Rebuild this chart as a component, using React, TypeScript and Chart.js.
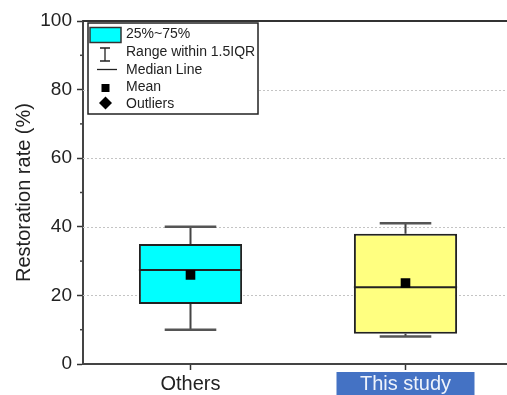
import React, { useEffect, useRef } from "react";
import { Chart, registerables } from "chart.js";

Chart.register(...registerables);

const categories = ["Others", "This study"];
const q1Values = [17.5, 8.8];
const q3Values = [35, 38];
const medianValues = [27.4, 22.4];
const meanValues = [26, 23.6];
const whiskerLow = [10, 8];
const whiskerHigh = [40, 41];
const boxColors = ["#00FFFF", "#FFFF80"];
const yMajorTicks = [0, 20, 40, 60, 80, 100];
const yMinorTicks = [10, 30, 50, 70, 90];
const yGridValues = [20, 40, 60, 80];
const legendLabels = ["25%~75%", "Range within 1.5IQR", "Median Line", "Mean", "Outliers"];

const FONT = "Arial, 'Liberation Sans', sans-serif";

const boxPlugin = {
  id: "boxExtras",
  beforeDraw(chart: any) {
    const { ctx } = chart;
    const x = chart.scales.x;
    const cx = x.getPixelForValue(1);
    ctx.save();
    ctx.fillStyle = "#4472C4";
    ctx.fillRect(cx - 69, 372, 138, 30);
    ctx.restore();
  },
  beforeDatasetsDraw(chart: any) {
    const { ctx, chartArea } = chart;
    const y = chart.scales.y;
    const x = chart.scales.x;
    ctx.save();
    // dotted grid
    ctx.strokeStyle = "#c4c4c4";
    ctx.lineWidth = 1;
    ctx.setLineDash([2, 2]);
    yGridValues.forEach((v) => {
      const py = Math.round(y.getPixelForValue(v)) + 0.5;
      ctx.beginPath();
      ctx.moveTo(chartArea.left, py);
      ctx.lineTo(chartArea.right, py);
      ctx.stroke();
    });
    ctx.setLineDash([]);
    // top border
    ctx.strokeStyle = "#333";
    ctx.lineWidth = 2;
    ctx.beginPath();
    ctx.moveTo(chartArea.left, chartArea.top);
    ctx.lineTo(chartArea.right + 20, chartArea.top);
    ctx.stroke();
    // minor ticks
    ctx.lineWidth = 1.5;
    ctx.strokeStyle = "#444";
    yMinorTicks.forEach((v) => {
      const py = y.getPixelForValue(v);
      ctx.beginPath();
      ctx.moveTo(chartArea.left - 3, py);
      ctx.lineTo(chartArea.left, py);
      ctx.stroke();
    });
    // whiskers
    const meta = chart.getDatasetMeta(0);
    categories.forEach((_, i) => {
      const el = meta.data[i];
      const cx = x.getPixelForValue(i);
      const w = el ? el.width : 100;
      const capHalf = w / 4;
      ctx.strokeStyle = "#444";
      ctx.lineWidth = 2;
      ctx.beginPath();
      ctx.moveTo(cx, y.getPixelForValue(whiskerLow[i]));
      ctx.lineTo(cx, y.getPixelForValue(q1Values[i]));
      ctx.moveTo(cx, y.getPixelForValue(q3Values[i]));
      ctx.lineTo(cx, y.getPixelForValue(whiskerHigh[i]));
      ctx.stroke();
      ctx.lineWidth = 2.5;
      ctx.strokeStyle = "#555";
      ctx.beginPath();
      ctx.moveTo(cx - capHalf, y.getPixelForValue(whiskerLow[i]));
      ctx.lineTo(cx + capHalf, y.getPixelForValue(whiskerLow[i]));
      ctx.moveTo(cx - capHalf, y.getPixelForValue(whiskerHigh[i]));
      ctx.lineTo(cx + capHalf, y.getPixelForValue(whiskerHigh[i]));
      ctx.stroke();
    });
    ctx.restore();
  },
  afterDatasetDraw(chart: any, args: any) {
    if (args.index !== 0) return;
    const { ctx } = chart;
    const y = chart.scales.y;
    const meta = chart.getDatasetMeta(0);
    ctx.save();
    ctx.strokeStyle = "#222";
    ctx.lineWidth = 2;
    categories.forEach((_, i) => {
      const el = meta.data[i];
      const py = y.getPixelForValue(medianValues[i]);
      ctx.beginPath();
      ctx.moveTo(el.x - el.width / 2, py);
      ctx.lineTo(el.x + el.width / 2, py);
      ctx.stroke();
    });
    ctx.restore();
  },
  afterDraw(chart: any) {
    const { ctx } = chart;
    ctx.save();
    // legend frame
    ctx.fillStyle = "#fff";
    ctx.fillRect(88, 23, 170, 91);
    ctx.strokeStyle = "#222";
    ctx.lineWidth = 1.5;
    ctx.strokeRect(88, 23, 170, 91);
    // row 1: box
    ctx.fillStyle = "#00FFFF";
    ctx.fillRect(90, 27.5, 31, 15);
    ctx.strokeStyle = "#333";
    ctx.lineWidth = 1.5;
    ctx.strokeRect(90, 27.5, 31, 15);
    // row 2: whisker icon
    ctx.strokeStyle = "#222";
    ctx.lineWidth = 1.3;
    ctx.beginPath();
    ctx.moveTo(100, 48);
    ctx.lineTo(110, 48);
    ctx.moveTo(105, 48);
    ctx.lineTo(105, 61);
    ctx.moveTo(100, 61);
    ctx.lineTo(110, 61);
    ctx.stroke();
    // row 3: median line
    ctx.beginPath();
    ctx.moveTo(97, 69.5);
    ctx.lineTo(117, 69.5);
    ctx.stroke();
    // row 4: mean
    ctx.fillStyle = "#000";
    ctx.fillRect(101.5, 84, 8, 8);
    // row 5: diamond
    ctx.beginPath();
    ctx.moveTo(105.5, 96.5);
    ctx.lineTo(112, 103);
    ctx.lineTo(105.5, 109.5);
    ctx.lineTo(99, 103);
    ctx.closePath();
    ctx.fill();
    // texts
    ctx.fillStyle = "#222";
    ctx.font = `14px ${FONT}`;
    ctx.textAlign = "left";
    ctx.textBaseline = "middle";
    const rowsY = [34, 52, 70, 87.5, 104];
    legendLabels.forEach((t, i) => ctx.fillText(t, 126, rowsY[i]));
    ctx.restore();
  },
};

export default function App() {
  const ref = useRef<HTMLCanvasElement | null>(null);
  useEffect(() => {
    if (!ref.current) return;
    Chart.defaults.font.family = FONT;
    const chart = new Chart(ref.current, {
      type: "bar",
      data: {
        labels: categories,
        datasets: [
          {
            type: "bar",
            data: categories.map((_, i) => [q1Values[i], q3Values[i]]) as any,
            backgroundColor: boxColors,
            borderColor: "#222",
            borderWidth: 2,
            borderSkipped: false,
            barPercentage: 0.48,
            categoryPercentage: 1,
            order: 2,
          } as any,
          {
            type: "line",
            data: meanValues,
            showLine: false,
            pointStyle: "rect",
            pointRadius: 6.8,
            pointBackgroundColor: "#000",
            pointBorderWidth: 0,
            order: 1,
          } as any,
        ],
      },
      options: {
        responsive: false,
        animation: false,
        devicePixelRatio: 1,
        events: [],
        layout: { padding: { left: 0, top: 21, right: 17, bottom: 0 } },
        plugins: { legend: { display: false }, tooltip: { enabled: false } },
        scales: {
          x: {
            type: "category",
            offset: true,
            afterFit: (s: any) => {
              s.height = 31;
            },
            grid: {
              drawOnChartArea: false,
              drawTicks: true,
              tickLength: 6,
              tickColor: "#333",
              tickWidth: 1.5,
              offset: false,
            },
            border: { display: true, color: "#444", width: 2 },
            ticks: {
              font: { size: 20 },
              color: (ctx: any) => (ctx.index === 1 ? "#EEF3FB" : "#222"),
              padding: 2,
              maxRotation: 0,
            },
          },
          y: {
            type: "linear",
            min: 0,
            max: 100,
            afterFit: (s: any) => {
              s.width = 83;
            },
            afterBuildTicks: (s: any) => {
              s.ticks = yMajorTicks.map((v) => ({ value: v }));
            },
            grid: {
              drawOnChartArea: false,
              drawTicks: true,
              tickLength: 6,
              tickColor: "#333",
              tickWidth: 1.5,
            },
            border: { display: true, color: "#444", width: 2 },
            ticks: {
              font: { size: 19 },
              color: "#222",
              padding: 5,
            },
            title: {
              display: true,
              text: "Restoration rate (%)",
              font: { size: 20 },
              color: "#222",
              padding: { top: 12, bottom: 0 },
            },
          },
        },
      },
      plugins: [boxPlugin],
    } as any);
    return () => chart.destroy();
  }, []);
  return (
    <div
      style={{
        position: "fixed",
        left: 0,
        top: 0,
        width: 507,
        height: 395,
        overflow: "hidden",
        background: "#fff",
      }}
    >
      <canvas ref={ref} width={530} height={395} style={{ display: "block", width: 530, height: 395 }} />
    </div>
  );
}
